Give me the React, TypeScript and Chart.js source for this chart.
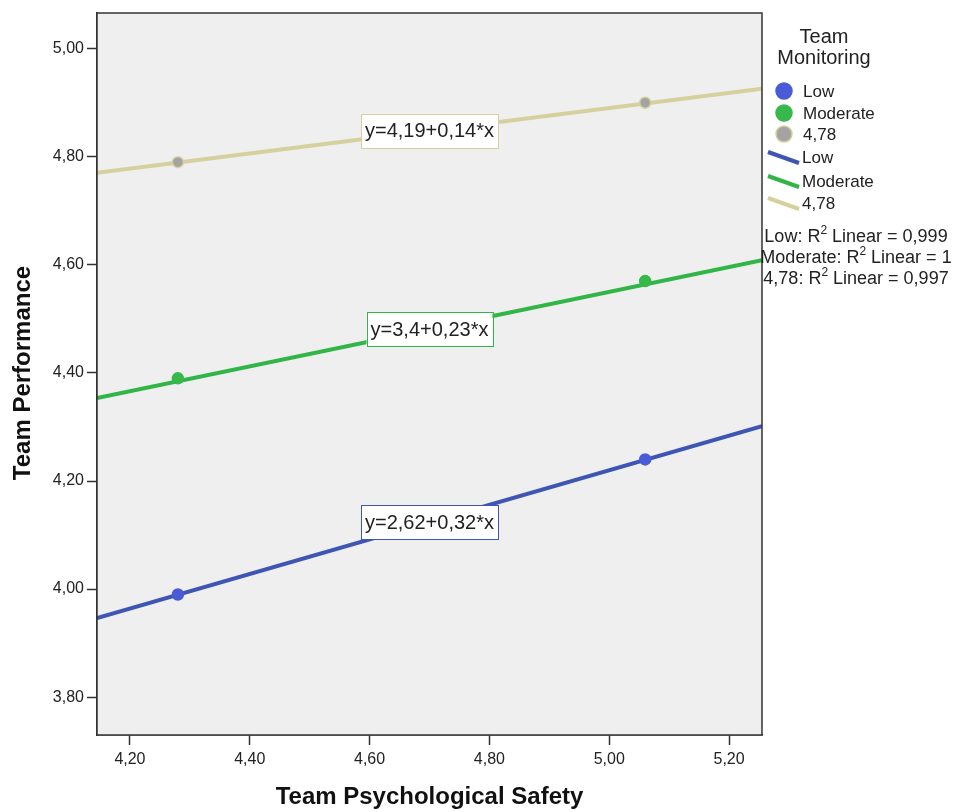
import React, { useEffect, useRef } from "react";
import { Chart, registerables } from "chart.js";

Chart.register(...registerables);

// ---- Data ----
const groupNames = ["Low", "Moderate", "4,78"];
const xValues = [4.28, 5.06];
const lowMeans = [3.99, 4.24];
const moderateMeans = [4.39, 4.57];
const highMeans = [4.79, 4.9];
const intercepts = [2.62, 3.4, 4.19];
const slopes = [0.32, 0.23, 0.14];
const equationLabels = ["y=2,62+0,32*x", "y=3,4+0,23*x", "y=4,19+0,14*x"];
const rSquaredLabels = ["0,999", "1", "0,997"];
const xTicks = [4.2, 4.4, 4.6, 4.8, 5.0, 5.2];
const xTickLabels = ["4,20", "4,40", "4,60", "4,80", "5,00", "5,20"];
const yTicks = [3.8, 4.0, 4.2, 4.4, 4.6, 4.8, 5.0];
const yTickLabels = ["3,80", "4,00", "4,20", "4,40", "4,60", "4,80", "5,00"];

const X_MIN = 4.145;
const X_MAX = 5.255;
const Y_MIN = 3.73;
const Y_MAX = 5.066;
const LABEL_X = 4.7;

// ---- Styles ----
const lineColors = ["#3f55b3", "#30b546", "#d6d09e"];
const markerColors = ["#4a5bd6", "#36b84a", "#a3a3a3"];
const markerBorders = ["#4a5bd6", "#36b84a", "#d6d09e"];
const FONT = "'Liberation Sans', Arial, sans-serif";

const meansList = [lowMeans, moderateMeans, highMeans];

export default function App() {
  const ref = useRef<HTMLCanvasElement | null>(null);

  useEffect(() => {
    if (!ref.current) return;

    const pointSets = meansList.map((means, i) => ({
      type: "scatter" as const,
      label: groupNames[i],
      data: xValues.map((x, k) => ({ x, y: means[k] })),
      pointRadius: 5.5,
      pointBackgroundColor: markerColors[i],
      pointBorderColor: markerBorders[i],
      pointBorderWidth: 1.5,
      showLine: false,
      order: 0,
    }));

    const fitSets = intercepts.map((a, i) => ({
      type: "scatter" as const,
      label: groupNames[i] + " fit",
      data: [
        { x: X_MIN, y: a + slopes[i] * X_MIN },
        { x: X_MAX, y: a + slopes[i] * X_MAX },
      ],
      showLine: true,
      borderColor: lineColors[i],
      borderWidth: 4,
      pointRadius: 0,
      order: 1,
    }));

    const decorPlugin = {
      id: "decor",
      beforeDatasetsDraw(chart: any) {
        const { ctx, chartArea } = chart;
        ctx.save();
        ctx.fillStyle = "#efefef";
        ctx.fillRect(chartArea.left, chartArea.top, chartArea.right - chartArea.left, chartArea.bottom - chartArea.top);
        ctx.restore();
      },
      afterDatasetsDraw(chart: any) {
        const { ctx, scales } = chart;
        ctx.save();
        ctx.font = `20px ${FONT}`;
        ctx.textBaseline = "middle";
        ctx.textAlign = "center";
        intercepts.forEach((a, i) => {
          const px = scales.x.getPixelForValue(LABEL_X);
          const py = scales.y.getPixelForValue(a + slopes[i] * LABEL_X);
          const w = ctx.measureText(equationLabels[i]).width + 8;
          const h = 34;
          ctx.fillStyle = "#ffffff";
          ctx.fillRect(px - w / 2, py - h / 2, w, h);
          ctx.strokeStyle = lineColors[i];
          ctx.lineWidth = 1;
          ctx.strokeRect(Math.round(px - w / 2) + 0.5, Math.round(py - h / 2) + 0.5, Math.round(w), h);
          ctx.fillStyle = "#222";
          ctx.fillText(equationLabels[i], px, py + 1);
        });
        ctx.restore();
      },
      afterDraw(chart: any) {
        const { ctx, chartArea } = chart;
        ctx.save();
        // frame
        ctx.strokeStyle = "#333";
        ctx.lineWidth = 1.5;
        ctx.strokeRect(chartArea.left, chartArea.top, chartArea.right - chartArea.left, chartArea.bottom - chartArea.top);

        // axis titles
        ctx.fillStyle = "#111";
        ctx.font = `bold 24px ${FONT}`;
        ctx.textAlign = "center";
        ctx.textBaseline = "middle";
        ctx.fillText("Team Psychological Safety", (chartArea.left + chartArea.right) / 2, 797);
        ctx.save();
        ctx.translate(23, 373);
        ctx.rotate(-Math.PI / 2);
        ctx.fillText("Team Performance", 0, 0);
        ctx.restore();

        // legend
        ctx.fillStyle = "#222";
        ctx.font = `20px ${FONT}`;
        ctx.textAlign = "center";
        ctx.fillText("Team", 824, 37);
        ctx.fillText("Monitoring", 824, 58);

        const markerYs = [91, 113, 134];
        ctx.font = `17px ${FONT}`;
        ctx.textAlign = "left";
        markerYs.forEach((y, i) => {
          ctx.beginPath();
          ctx.arc(784, y, 8, 0, Math.PI * 2);
          ctx.fillStyle = markerColors[i];
          ctx.fill();
          ctx.lineWidth = 1.5;
          ctx.strokeStyle = markerBorders[i];
          ctx.stroke();
          ctx.fillStyle = "#222";
          ctx.fillText(groupNames[i], 803, y + 1);
        });
        const lineYs = [157, 181, 203];
        lineYs.forEach((y, i) => {
          ctx.beginPath();
          ctx.moveTo(768, y - 5);
          ctx.lineTo(799, y + 6);
          ctx.strokeStyle = lineColors[i];
          ctx.lineWidth = 4;
          ctx.stroke();
          ctx.fillStyle = "#222";
          ctx.fillText(groupNames[i], 802, y + 1);
        });

        // R squared lines
        const rYs = [237, 258, 279];
        rYs.forEach((y, i) => {
          const pre = groupNames[i] + ": R";
          const post = " Linear = " + rSquaredLabels[i];
          ctx.font = `18px ${FONT}`;
          const w1 = ctx.measureText(pre).width;
          const w3 = ctx.measureText(post).width;
          ctx.font = `12px ${FONT}`;
          const w2 = ctx.measureText("2").width;
          const total = w1 + w2 + w3;
          const x0 = 856 - total / 2;
          ctx.font = `18px ${FONT}`;
          ctx.fillText(pre, x0, y);
          ctx.fillText(post, x0 + w1 + w2, y);
          ctx.font = `12px ${FONT}`;
          ctx.fillText("2", x0 + w1, y - 6);
        });
        ctx.restore();
      },
    };

    const chart = new Chart(ref.current, {
      type: "scatter",
      data: { datasets: [...pointSets, ...fitSets] as any },
      options: {
        animation: false,
        responsive: false,
        layout: { padding: { left: 0, top: 13, right: 194, bottom: 0 } },
        plugins: { legend: { display: false }, tooltip: { enabled: false } },
        scales: {
          x: {
            type: "linear",
            min: X_MIN,
            max: X_MAX,
            afterBuildTicks: (scale: any) => {
              scale.ticks = xTicks.map((v) => ({ value: v }));
            },
            afterFit: (scale: any) => {
              scale.height = 77;
            },
            ticks: {
              callback: (_v: any, i: number) => xTickLabels[i],
              font: { family: FONT, size: 16 },
              color: "#222",
              padding: 5,
              maxRotation: 0,
            },
            grid: { drawOnChartArea: false, drawTicks: true, tickLength: 10, tickColor: "#333", tickWidth: 1.5 },
            border: { display: true, color: "#333", width: 1.5 },
          },
          y: {
            type: "linear",
            min: Y_MIN,
            max: Y_MAX,
            afterBuildTicks: (scale: any) => {
              scale.ticks = yTicks.map((v) => ({ value: v }));
            },
            afterFit: (scale: any) => {
              scale.width = 97;
            },
            ticks: {
              callback: (_v: any, i: number) => yTickLabels[i],
              font: { family: FONT, size: 16 },
              color: "#222",
              padding: 3,
            },
            grid: { drawOnChartArea: false, drawTicks: true, tickLength: 10, tickColor: "#333", tickWidth: 1.5 },
            border: { display: true, color: "#333", width: 1.5 },
          },
        },
      },
      plugins: [decorPlugin],
    });

    return () => chart.destroy();
  }, []);

  return (
    <div style={{ position: "absolute", left: 0, top: 0, width: 956, height: 812, background: "#fff" }}>
      <canvas ref={ref} width={956} height={812} style={{ display: "block" }} />
    </div>
  );
}
